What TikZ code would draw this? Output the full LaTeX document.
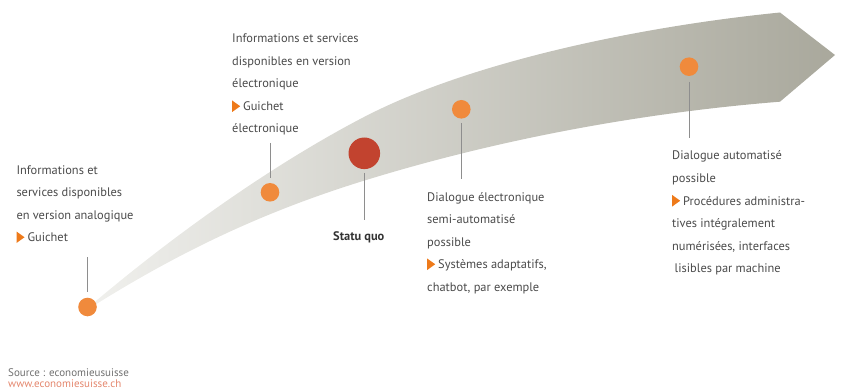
\documentclass[tikz,border=0pt]{standalone}
\usepackage{fontspec}
\setmainfont{PT Sans}
\definecolor{txtgray}{HTML}{4A4A4A}
\definecolor{srcgray}{HTML}{707070}
\definecolor{urlcol}{HTML}{E4876E}
\definecolor{dotorange}{HTML}{F08A3C}
\definecolor{dotred}{HTML}{C2432F}
\definecolor{triorange}{HTML}{EE7A1A}
\definecolor{stemgray}{HTML}{8E8E8E}
\definecolor{arrowlight}{HTML}{F0F0ED}
\definecolor{arrowdark}{HTML}{A9A89C}
\newcommand{\gtri}{\tikz[baseline=0pt]\fill[triorange] (0pt,-1.5pt) -- (0pt,10pt) -- (8pt,4.25pt) -- cycle;\hspace{3pt}}
\begin{document}
\begin{tikzpicture}[x=1pt,y=-1pt,
  lbl/.style={anchor=base west, inner sep=0pt, align=left, text=txtgray,
    font=\fontsize{12.4}{22.5}\selectfont},
  dotsmall/.style={circle, fill=dotorange, minimum size=18.6pt, inner sep=0pt},
  dotbig/.style={circle, fill=dotred, minimum size=31.6pt, inner sep=0pt},
  stem/.style={draw=stemgray, line width=1pt}]
\useasboundingbox (0,0) rectangle (843,390);
% arrow body
\shade[left color=arrowlight, right color=arrowdark]
  (90,306) .. controls (175,233.8) and (274,163.8) .. (364,117)
  .. controls (469,62.4) and (637.7,26.7) .. (780,12.5)
  -- (835,55) -- (780,101.7)
  .. controls (640.4,112.9) and (496.7,139.6) .. (363,181)
  .. controls (267.5,210.6) and (183.2,249.3) .. (90,308)
  -- cycle;
% dots
\node[dotsmall] (d1) at (87.5,307) {};
\node[dotsmall] (d2) at (270,192.3) {};
\node[dotbig] (dsq) at (364.3,153.3) {};
\node[dotsmall] (d3) at (461.3,109.3) {};
\node[dotsmall] (d4) at (689,66.7) {};
% stems
\coordinate (s1a) at (87.5,257); \coordinate (s1b) at (87.5,292);
\coordinate (s2a) at (270,143); \coordinate (s2b) at (270,178);
\coordinate (sqa) at (364.3,173); \coordinate (sqb) at (364.3,220);
\coordinate (s3a) at (461.5,123); \coordinate (s3b) at (461.5,179);
\coordinate (s4a) at (689,82); \coordinate (s4b) at (689,138);
\draw[stem] (s1a) -- (s1b);
\draw[stem] (s2a) -- (s2b);
\draw[stem] (sqa) -- (sqb);
\draw[stem] (s3a) -- (s3b);
\draw[stem] (s4a) -- (s4b);
% labels (anchor = baseline of last line)
\node[lbl] (t1) at (16.3,241.5) {Informations et\\services disponibles\\en version analogique\\\gtri Guichet};
\node[lbl] (t2) at (232,133) {Informations et services\\disponibles en version\\électronique\\\gtri Guichet\\électronique};
\node[lbl, font=\fontsize{12.4}{22.5}\selectfont\bfseries, text=black!80] (tsq) at (333,240.5) {Statu quo};
\node[lbl] (t3) at (427,291) {Dialogue électronique\\semi-automatisé\\possible\\\gtri Systèmes adaptatifs,\\chatbot, par exemple};
\node[lbl] (t4) at (672,272.5) {Dialogue automatisé\\possible\\\gtri Procédures administra-\\tives intégralement\\numérisées, interfaces\\\hspace{2.5pt}lisibles par machine};
% source
\node[anchor=base west, inner sep=0pt, text=srcgray, font=\fontsize{11}{11}\selectfont] (src) at (8,376.5) {Source : economieusuisse};
\node[anchor=base west, inner sep=0pt, text=urlcol, font=\fontsize{11}{11}\selectfont] (url) at (8,387.5) {www.economiesuisse.ch};
\end{tikzpicture}
\end{document}
